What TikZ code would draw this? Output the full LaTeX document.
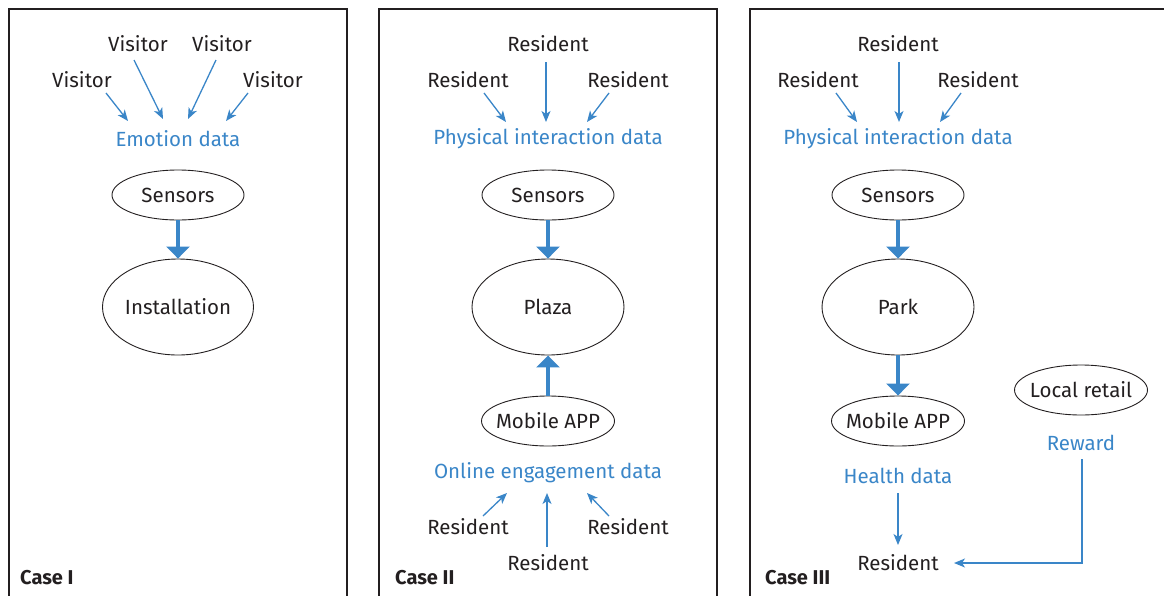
\documentclass[tikz,border=0pt]{standalone}
\usepackage{fontspec}
\setmainfont{Fira Sans}
\usetikzlibrary{shapes.geometric,arrows.meta,calc}

\definecolor{casegray}{RGB}{35,31,32}
\definecolor{datablue}{RGB}{58,134,200}

\tikzset{
    label/.style={font=\fontsize{20.5}{24}\selectfont, text=casegray, inner sep=0pt},
    datalabel/.style={label, text=datablue},
    casetitle/.style={font=\fontsize{20}{24}\selectfont\bfseries, text=casegray, anchor=west, inner sep=0pt},
    oval/.style={ellipse, draw=casegray, line width=0.9pt, label, inner ysep=0pt, inner xsep=-8pt},
    thinarrow/.style={draw=datablue, line width=1.3pt, -{Stealth[length=11pt,width=9pt,inset=3pt]}},
    bigarrow/.style={draw=datablue, line width=4.5pt, -{Triangle[length=12pt,width=23pt]}},
    panel/.style={draw=casegray, line width=2pt}
}

\begin{document}
\begin{tikzpicture}[x=1pt,y=-1pt]
    % Page size of the reference
    \clip (0,0) rectangle (1164,595);
    \useasboundingbox (0,0) rectangle (1164,595);

    % The three panels (cut off at the bottom and right)
    \draw[panel] (9,9) rectangle (347,640);
    \draw[panel] (379,9) rectangle (717,640);
    \draw[panel] (750,9) rectangle (1200,640);

    % ---- Case I ----
    \node[label] (visA) at (82,80) {Visitor};
    \node[label] (visB) at (138,44) {Visitor};
    \node[label] (visC) at (222,44) {Visitor};
    \node[label] (visD) at (273,80) {Visitor};
    \node[datalabel] (emo) at (178,139) {Emotion data};

    \draw[thinarrow] ($(visA)+(24,13)$) -- ($(emo)+(-50,-18)$);
    \draw[thinarrow] ($(visB)+(-4,16)$) -- ($(emo)+(-15,-20)$);
    \draw[thinarrow] ($(visC)+(-6,16)$) -- ($(emo)+(10,-20)$);
    \draw[thinarrow] ($(visD)+(-25,13)$) -- ($(emo)+(48,-18)$);

    \node[oval, minimum width=132pt, minimum height=50pt] (senA) at (178,195) {Sensors};
    \node[oval, minimum width=151pt, minimum height=96pt] (inst) at (178,307) {Installation};
    \draw[bigarrow] (senA) -- (inst);

    \node[casetitle] (caseA) at (20,578) {Case I};

    % ---- Case II ----
    \node[label] (resB1) at (548,44) {Resident};
    \node[label] (resB2) at (468,80) {Resident};
    \node[label] (resB3) at (628,80) {Resident};
    \node[datalabel] (physB) at (548,139) {Physical interaction data};

    \draw[thinarrow] ($(resB2)+(16,13)$) -- ($(physB)+(-42,-17)$);
    \draw[thinarrow] ($(resB1)+(-2,18)$) -- ($(physB)+(-2,-17)$);
    \draw[thinarrow] ($(resB3)+(-19,13)$) -- ($(physB)+(39,-17)$);

    \node[oval, minimum width=132pt, minimum height=50pt] (senB) at (548,195) {Sensors};
    \node[oval, minimum width=152pt, minimum height=96pt] (plaza) at (548,307) {Plaza};
    \node[oval, minimum width=133pt, minimum height=50pt] (appB) at (548,421) {Mobile APP};
    \draw[bigarrow] (senB) -- (plaza);
    \draw[bigarrow] (appB) -- (plaza);

    \node[datalabel] (online) at (548,473) {Online engagement data};
    \node[label] (resB4) at (468,527) {Resident};
    \node[label] (resB5) at (548,563) {Resident};
    \node[label] (resB6) at (628,527) {Resident};

    \draw[thinarrow] ($(resB4)+(15,-11)$) -- ($(online)+(-41,20)$);
    \draw[thinarrow] ($(resB5)+(-1,-16)$) -- ($(online)+(-1,20)$);
    \draw[thinarrow] ($(resB6)+(-19,-11)$) -- ($(online)+(39,20)$);

    \node[casetitle] (caseB) at (395,578) {Case II};

    % ---- Case III ----
    \node[label] (resC1) at (898,44) {Resident};
    \node[label] (resC2) at (818,80) {Resident};
    \node[label] (resC3) at (978,80) {Resident};
    \node[datalabel] (physC) at (898,139) {Physical interaction data};

    \draw[thinarrow] ($(resC2)+(18,13)$) -- ($(physC)+(-41,-17)$);
    \draw[thinarrow] ($(resC1)+(1,18)$) -- ($(physC)+(1,-17)$);
    \draw[thinarrow] ($(resC3)+(-17,13)$) -- ($(physC)+(42,-17)$);

    \node[oval, minimum width=132pt, minimum height=50pt] (senC) at (898,195) {Sensors};
    \node[oval, minimum width=152pt, minimum height=96pt] (park) at (898,307) {Park};
    \node[oval, minimum width=133pt, minimum height=50pt] (appC) at (898,421) {Mobile APP};
    \draw[bigarrow] (senC) -- (park);
    \draw[bigarrow] (park) -- (appC);

    \node[oval, minimum width=133pt, minimum height=50pt] (retail) at (1081,390) {Local retail};
    \node[datalabel] (reward) at (1081,443) {Reward};
    \node[datalabel] (health) at (898,476) {Health data};
    \node[label] (resC4) at (898,563) {Resident};

    \draw[thinarrow] ($(health)+(0,17)$) -- ($(resC4)+(0,-18)$);
    \draw[thinarrow] ($(reward)+(1,16)$) |- ($(resC4)+(56,0)$);

    \node[casetitle] (caseC) at (765,578) {Case III};
\end{tikzpicture}
\end{document}
